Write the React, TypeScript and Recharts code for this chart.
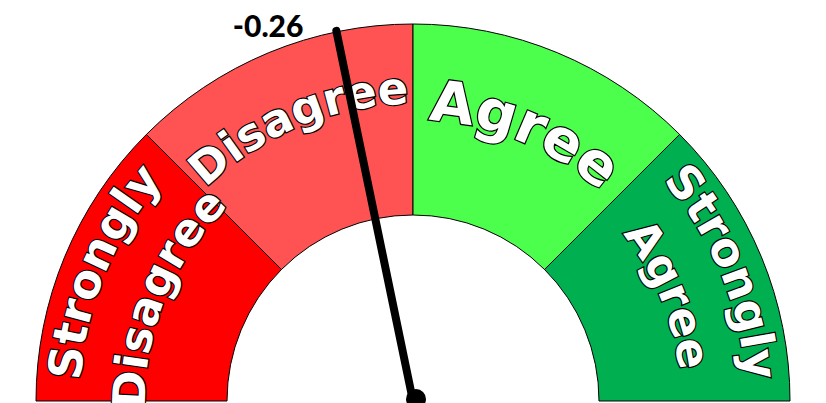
import React from 'react';
import { PieChart, Pie, Cell } from 'recharts';

// ---- data ----
const categories: string[] = ['Strongly Disagree', 'Disagree', 'Agree', 'Strongly Agree'];
const labelLines: string[][] = [['Strongly', 'Disagree'], ['Disagree'], ['Agree'], ['Strongly', 'Agree']];
const segmentValues: number[] = [1, 1, 1, 1];
const needleValue = -0.26;
const scaleMin = -2;
const scaleMax = 2;

// ---- style ----
const colors = ['#FF0000', '#FF5353', '#4DFF4D', '#00B050'];
const W = 826;
const H = 403;
const CX = 413;
const CY = 401;
const INNER = 186;
const OUTER = 377;
const START = 180;
const END = 0;
const RAD = Math.PI / 180;
const LABEL_FONT = "'DejaVu Sans', Verdana, sans-serif";

const chartData = categories.map((name, i) => ({ name, value: segmentValues[i] }));

const pt = (cx: number, cy: number, r: number, a: number) => [cx + r * Math.cos(a * RAD), cy - r * Math.sin(a * RAD)];

const lineStyle = (index: number, lineIdx: number, count: number) => {
  if (count === 1) {
    return index === 1 ? { fs: 45, r: 297 } : { fs: 57, r: 281 };
  }
  return lineIdx === 0 ? { fs: 46, r: 333 } : { fs: 45, r: 268 };
};

const renderNeedle = (cx: number, cy: number) => {
  const frac = (needleValue - scaleMin) / (scaleMax - scaleMin);
  const angle = START + (END - START) * frac;
  const [tx, ty] = pt(cx, cy, 378, angle);
  return (
    <g key="needle">
      <line x1={cx} y1={cy} x2={tx} y2={ty} stroke="#000" strokeWidth={8} strokeLinecap="round" />
      <circle cx={cx + 3} cy={cy - 2} r={10} fill="#000" />
      <text
        x={tx - 33}
        y={ty + 6}
        textAnchor="end"
        fontSize={30}
        fontWeight={900}
        fontFamily="Lato, 'Open Sans', sans-serif"
        fill="#000"
      >
        {needleValue.toFixed(2)}
      </text>
    </g>
  );
};

const renderLabel = (props: any) => {
  const { cx, cy, midAngle, index } = props;
  const lines = labelLines[index] || [];
  return (
    <g>
      {lines.map((line, i) => {
        const { fs, r } = lineStyle(index, i, lines.length);
        const [x0, y0] = pt(cx, cy, r, midAngle + 80);
        const [x1, y1] = pt(cx, cy, r, midAngle - 80);
        const id = `lblpath-${index}-${i}`;
        return (
          <g key={id}>
            <defs>
              <path id={id} d={`M ${x0} ${y0} A ${r} ${r} 0 0 1 ${x1} ${y1}`} fill="none" />
            </defs>
            <text
              fontSize={fs}
              fontWeight="bold"
              fontFamily={LABEL_FONT}
              fill="#ffffff"
              stroke="#000000"
              strokeWidth={2.4}
              paintOrder="stroke"
            >
              <textPath href={`#${id}`} startOffset="50%" textAnchor="middle">
                {line}
              </textPath>
            </text>
          </g>
        );
      })}
      {index === categories.length - 1 ? renderNeedle(CX, CY) : null}
    </g>
  );
};

export default function App() {
  return (
    <div style={{ position: 'absolute', left: 0, top: 0, width: W, height: H, background: '#fff', overflow: 'hidden' }}>
      <PieChart width={W} height={H} margin={{ top: 0, right: 0, bottom: 0, left: 0 }}>
        <Pie
          data={chartData}
          dataKey="value"
          nameKey="name"
          cx={CX}
          cy={CY}
          startAngle={START}
          endAngle={END}
          innerRadius={INNER}
          outerRadius={OUTER}
          stroke="#000"
          strokeWidth={1}
          label={renderLabel}
          labelLine={false}
          isAnimationActive={false}
        >
          {chartData.map((d, i) => (
            <Cell key={d.name} fill={colors[i]} />
          ))}
        </Pie>
      </PieChart>
    </div>
  );
}
